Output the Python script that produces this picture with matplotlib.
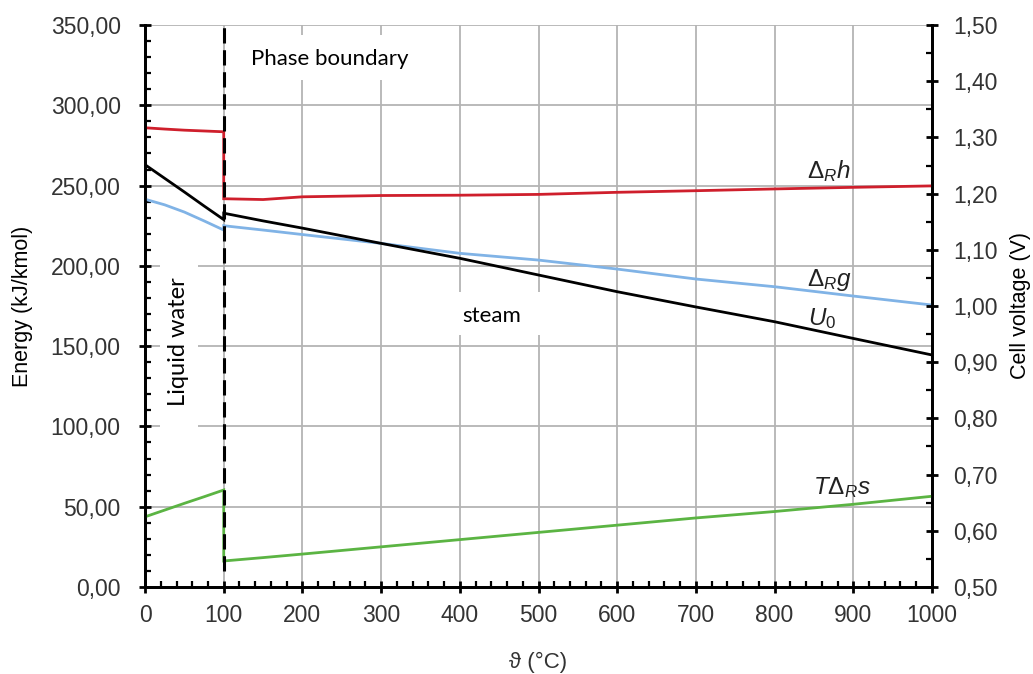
import matplotlib
matplotlib.use("Agg")
import matplotlib.pyplot as plt
import matplotlib.ticker as mticker
from matplotlib.patches import Rectangle

plt.rcParams["font.family"] = ["Liberation Sans", "DejaVu Sans"]
plt.rcParams["mathtext.fontset"] = "custom"
plt.rcParams["mathtext.rm"] = "Liberation Sans"
plt.rcParams["mathtext.it"] = "Liberation Sans:italic"

# ---- Data ----
# liquid water branch 0..100 °C, steam branch 100..1000 °C
t_liq = [0, 25, 50, 75, 100]
t_gas = [100, 150, 200, 300, 400, 500, 600, 700, 800, 900, 1000]

dh_liq = [286.0, 285.2, 284.5, 284.0, 283.5]
dh_gas = [241.8, 241.3, 243.0, 243.8, 244.0, 244.5, 245.8, 246.8, 247.9, 248.9, 249.8]

dg_liq = [241.5, 238.0, 233.5, 228.0, 222.3]
dg_gas = [225.0, 222.3, 219.5, 214.0, 207.8, 203.6, 198.0, 191.8, 187.0, 181.2, 175.6]

u0_liq = [263.0, 254.5, 246.0, 237.3, 228.8]
u0_gas = [232.8, 228.0, 223.5, 214.0, 204.7, 194.3, 183.9, 174.4, 165.2, 154.8, 144.5]

tds_liq = [43.7, 47.9, 52.1, 56.2, 60.4]
tds_gas = [16.2, 18.3, 20.5, 25.0, 29.5, 34.0, 38.5, 43.0, 47.0, 51.5, 56.5]

colors = {"dh": "#cf1f2c", "dg": "#80b3e6", "u0": "#000000", "tds": "#5bb443"}

fig = plt.figure(figsize=(10.33, 6.74), dpi=100)
ax = fig.add_axes([0.1404, 0.1291, 0.7618, 0.8338])
ax2 = ax.twinx()

# grid + white text boxes
ax.set_axisbelow(True)
ax.grid(True, which="major", color="#b4b4b4", lw=1.3, zorder=0)
for (x0, y0, w, h) in [(102, 316, 247, 28), (375, 157, 133, 27), (19, 85, 48, 130)]:
    ax.add_patch(Rectangle((x0, y0), w, h, facecolor="white", edgecolor="none", zorder=1))

lw = 2.0
for key, tl, yl, tg, yg in [("dh", t_liq, dh_liq, t_gas, dh_gas),
                            ("dg", t_liq, dg_liq, t_gas, dg_gas),
                            ("u0", t_liq, u0_liq, t_gas, u0_gas),
                            ("tds", t_liq, tds_liq, t_gas, tds_gas)]:
    ax.plot(tl + tg, yl + yg, color=colors[key], lw=lw, zorder=3, solid_joinstyle="miter")

# phase boundary
ax.plot([100, 100], [10, 350], color="black", lw=2.2, dashes=(5, 2.2), zorder=4)

ax.set_xlim(0, 1000)
ax.set_ylim(0, 350)
ax2.set_ylim(0.5, 1.5)

ax.xaxis.set_major_locator(mticker.MultipleLocator(100))
ax.xaxis.set_minor_locator(mticker.MultipleLocator(20))
ax.yaxis.set_major_locator(mticker.MultipleLocator(50))
ax.yaxis.set_minor_locator(mticker.MultipleLocator(10))
ax2.yaxis.set_major_locator(mticker.MultipleLocator(0.1))
ax2.yaxis.set_minor_locator(mticker.MultipleLocator(0.05))

comma_fmt = mticker.FuncFormatter(lambda v, _: f"{v:.2f}".replace(".", ","))
ax.yaxis.set_major_formatter(comma_fmt)
ax2.yaxis.set_major_formatter(comma_fmt)

for a in (ax, ax2):
    for s in a.spines.values():
        s.set_linewidth(2.0)
    a.spines["top"].set_visible(False)
    a.tick_params(which="major", direction="inout", length=9, width=2.0, labelsize=16.5,
                  labelcolor="#333333")
    a.tick_params(which="minor", direction="in", length=4, width=1.6)
ax.tick_params(axis="y", pad=13)
ax2.tick_params(axis="y", pad=11)
ax.tick_params(axis="x", pad=8)

ax.set_xlabel("ϑ (°C)", fontsize=16, labelpad=18, color="#333333")
ax.set_ylabel("Energy (kJ/kmol)", fontsize=15.5, va="center", ha="center")
ax.yaxis.set_label_coords(-0.156, 0.5)
ax2.set_ylabel("Cell voltage (V)", fontsize=15.5, rotation=90, va="center", ha="center")
ax2.yaxis.set_label_coords(1.112, 0.5)

# annotations
box_txt = dict(fontsize=16, family=["Lato"], ha="center", va="center", zorder=2)
ax.text(235, 329, "Phase boundary", **box_txt)
ax.text(440, 169, "steam", **box_txt)
ax.text(42, 153, "Liquid water", rotation=90, fontsize=17, family=["Lato"],
        ha="center", va="center", zorder=2)

lab = dict(fontsize=17.5, ha="center", va="center", color="#222222", zorder=5)
ax.text(869, 259, r"$\mathit{\Delta_R h}$", **lab)
ax.text(869, 191, r"$\mathit{\Delta_R g}$", **lab)
ax.text(860, 167, r"$\mathit{U_0}$", **lab)
ax.text(886, 62, r"$\mathit{T\Delta_R s}$", **lab)

plt.savefig("out.png", dpi=100)
